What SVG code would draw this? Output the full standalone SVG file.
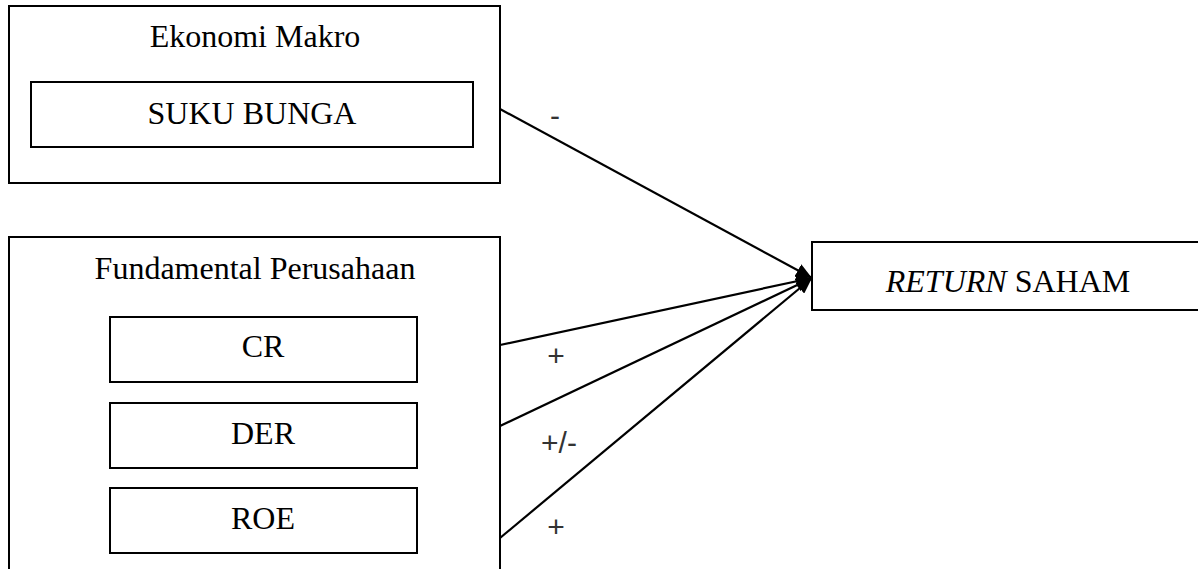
<svg xmlns="http://www.w3.org/2000/svg" width="1198" height="569" viewBox="0 0 1198 569">
  <style>
    .box { fill: #ffffff; stroke: #000000; stroke-width: 2; }
    .t { font-family: "Liberation Serif", "Times New Roman", serif; font-size: 32px; fill: #000000; text-anchor: middle; }
    .lbl { font-family: "Liberation Sans", Arial, sans-serif; font-size: 30px; fill: #333333; text-anchor: middle; }
    .conn { stroke: #000000; stroke-width: 2.2; fill: none; marker-end: url(#arrow); }
  </style>
  <defs>
    <marker id="arrow" markerUnits="userSpaceOnUse" markerWidth="18" markerHeight="14" refX="16" refY="7" orient="auto">
      <path d="M0,0 L16,7 L0,14 Z" fill="#000000"/>
    </marker>
  </defs>
  <rect width="1198" height="569" fill="#ffffff"/>

  <g id="ekonomi-makro">
    <rect class="box" x="9" y="6" width="491" height="177"/>
    <text class="t" x="255" y="47">Ekonomi Makro</text>
  </g>
  <g id="suku-bunga">
    <rect class="box" x="31" y="82" width="442" height="65"/>
    <text class="t" x="252" y="124">SUKU BUNGA</text>
  </g>

  <g id="fundamental">
    <rect class="box" x="9" y="237" width="491" height="360"/>
    <text class="t" x="255" y="279">Fundamental Perusahaan</text>
  </g>
  <g id="cr">
    <rect class="box" x="110" y="317" width="307" height="65"/>
    <text class="t" x="263" y="357">CR</text>
  </g>
  <g id="der">
    <rect class="box" x="110" y="403" width="307" height="65"/>
    <text class="t" x="263" y="444">DER</text>
  </g>
  <g id="roe">
    <rect class="box" x="110" y="488" width="307" height="65"/>
    <text class="t" x="263" y="529">ROE</text>
  </g>

  <g id="return-saham">
    <rect class="box" x="812" y="242" width="400" height="68"/>
    <text class="t" x="1008" y="292"><tspan font-style="italic">RETURN</tspan> SAHAM</text>
  </g>

  <g id="connectors">
    <line class="conn" x1="500" y1="109" x2="812" y2="278"/>
    <line class="conn" x1="500" y1="345" x2="812" y2="278"/>
    <line class="conn" x1="500" y1="426" x2="812" y2="278"/>
    <line class="conn" x1="500" y1="538" x2="812" y2="278"/>
    <text class="lbl" x="555" y="126">-</text>
    <text class="lbl" x="556" y="366">+</text>
    <text class="lbl" x="559" y="453">+/-</text>
    <text class="lbl" x="556" y="537">+</text>
  </g>
</svg>
